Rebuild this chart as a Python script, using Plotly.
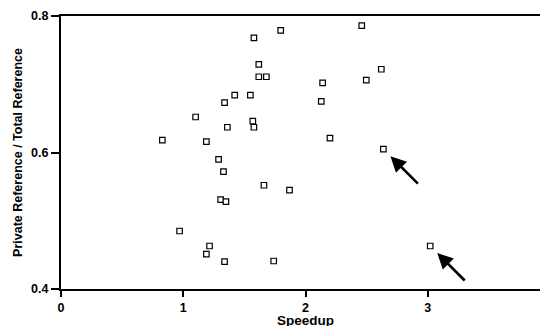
import plotly.graph_objects as go

# Data
speedup = [2.460, 1.797, 1.578, 1.618, 1.618, 1.680, 2.620, 2.140, 2.497, 2.129,
           1.421, 1.549, 1.338, 1.101, 1.569, 1.578, 1.361, 0.829, 1.189, 2.200,
           2.637, 1.289, 1.329, 1.660, 1.869, 1.306, 1.349, 0.970, 1.215, 1.189,
           1.338, 1.740, 3.020]
private_ratio = [0.786, 0.779, 0.768, 0.729, 0.711, 0.711, 0.722, 0.702, 0.706, 0.675,
                 0.684, 0.684, 0.673, 0.652, 0.646, 0.637, 0.637, 0.618, 0.616, 0.621,
                 0.605, 0.590, 0.572, 0.552, 0.545, 0.531, 0.528, 0.485, 0.463, 0.451,
                 0.440, 0.441, 0.463]
highlighted = [20, 32]  # indices of points marked with arrows

x_ticks = [0, 1, 2, 3, 4]
y_ticks = [0.4, 0.6, 0.8]
y_tick_labels = ["0.4", "0.6", "0.8"]
x_title = "Speedup"
y_title = "Private Reference / Total Reference"

FONT = "Liberation Sans, Arial, Helvetica, sans-serif"

fig = go.Figure()
fig.add_trace(go.Scatter(
    x=speedup, y=private_ratio, mode="markers",
    marker=dict(symbol="square", size=5.5, color="white",
                line=dict(color="black", width=1.2)),
    showlegend=False, cliponaxis=False,
))

for i in highlighted:
    fig.add_annotation(
        x=speedup[i], y=private_ratio[i], xref="x", yref="y",
        ax=36, ay=36, axref="pixel", ayref="pixel",
        showarrow=True, arrowhead=2, arrowsize=1.2, arrowwidth=2.6,
        arrowcolor="black", standoff=10, text="",
    )

# x-axis title placed just below the tick labels
fig.add_annotation(
    text=x_title, xref="paper", yref="paper", x=0.5, y=0,
    xanchor="center", yanchor="top", yshift=-22, showarrow=False,
    font=dict(size=13.5, family=FONT, weight="bold", color="black"),
)

fig.update_layout(
    width=548, height=326,
    margin=dict(l=53, r=5.5, t=7.7, b=45.3),
    paper_bgcolor="white", plot_bgcolor="white",
    font=dict(family=FONT, color="black"),
    xaxis=dict(
        range=[0, 4], tickvals=x_ticks, ticks="outside", ticklen=6,
        tickwidth=2, tickcolor="black", showline=True, linewidth=2,
        linecolor="black", mirror=True, showgrid=False, zeroline=False,
        automargin=False,
        tickfont=dict(size=12.5, family=FONT, weight="bold"),
    ),
    yaxis=dict(
        range=[0.4, 0.8], tickvals=y_ticks, ticktext=y_tick_labels,
        ticks="outside", ticklen=8, tickwidth=2, tickcolor="black",
        showline=True, linewidth=2, linecolor="black", showgrid=False,
        zeroline=False, automargin=False,
        tickfont=dict(size=12.5, family=FONT, weight="bold"),
        title=dict(text=y_title,
                   font=dict(size=12.5, family=FONT, weight="bold"), standoff=6),
    ),
)

fig.write_html("out.html")
